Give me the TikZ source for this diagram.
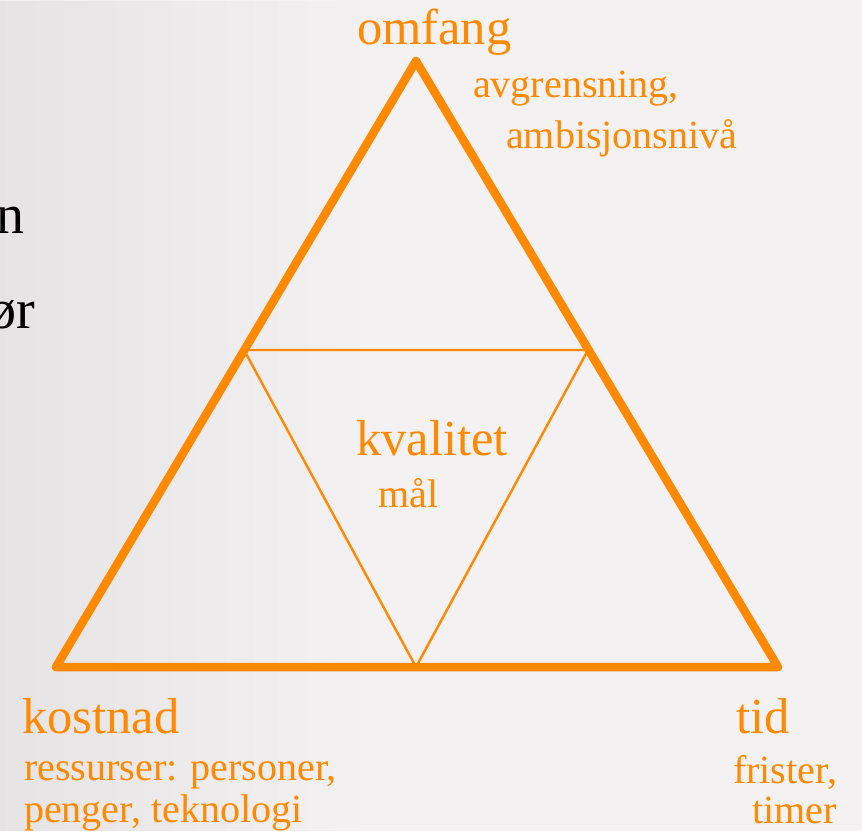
\documentclass[tikz,border=0pt]{standalone}
\usepackage{fontspec}
\setmainfont{Liberation Serif}
\usetikzlibrary{fadings}
\definecolor{bgc}{RGB}{243,241,242}
\definecolor{orng}{RGB}{255,137,0}
\definecolor{photo}{RGB}{205,203,204}
\begin{document}
\begin{tikzpicture}[x=1pt,y=-1pt,
  big/.style={text=orng,inner sep=0pt,anchor=base west,font=\fontsize{50.5}{58}\selectfont},
  small/.style={text=orng,inner sep=0pt,anchor=base west,font=\fontsize{40}{46}\selectfont},
  side/.style={text=black,inner sep=0pt,anchor=base east,font=\fontsize{56}{64}\selectfont},
  outer/.style={draw=orng,line width=8.5pt,line join=round},
  inner/.style={draw=orng,line width=2.4pt}]
\fill[bgc] (0,0) rectangle (862,831);
\useasboundingbox (0,0) rectangle (862,831);
\fill[photo,path fading=east,opacity=0.35] (0,0) rectangle (360,831);
% side text (cut off at the left edge, as in the reference)
\node[side] (s1) at (25,233) {n};
\node[side] (s2) at (35,328) {ør};
% vertices
\coordinate (A) at (416,61);
\coordinate (L) at (56,667);
\coordinate (R) at (778,667);
\coordinate (ML) at (244,350);
\coordinate (MR) at (588,350);
\coordinate (MB) at (416,667);
\draw[inner] (ML) -- (MR) -- (MB) -- cycle;
\draw[outer] (A) -- (L) -- (R) -- cycle;
% labels
\node[big] (om) at (357,44) {omfang};
\node[small] (om1) at (473,97) {avgrensning,};
\node[small] (om2) at (506,148) {ambisjonsnivå};
\node[big] (kv) at (356,455) {kvalitet};
\node[small] (kv1) at (378,507) {mål};
\node[big] (ko) at (22,733) {kostnad};
\node[small] (ko1) at (24,780) {ressurser: personer,};
\node[small] (ko2) at (24,822) {penger, teknologi};
\node[big] (ti) at (736,733) {tid};
\node[small] (ti1) at (733,783) {frister,};
\node[small] (ti2) at (752,823) {timer};
\end{tikzpicture}
\end{document}
